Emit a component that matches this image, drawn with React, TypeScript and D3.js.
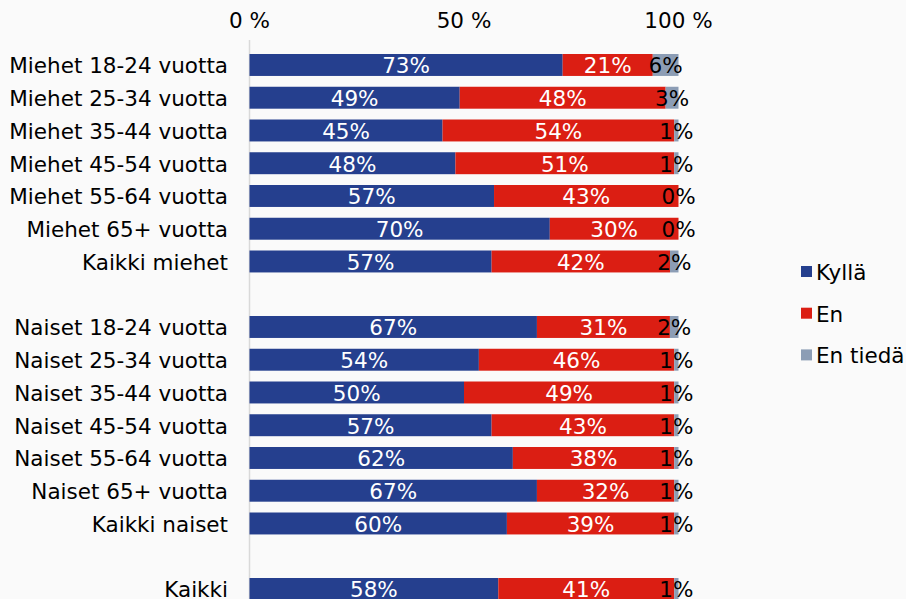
import * as d3 from 'd3';
import { useEffect } from 'react';

const categories = [
  'Miehet 18-24 vuotta',
  'Miehet 25-34 vuotta',
  'Miehet 35-44 vuotta',
  'Miehet 45-54 vuotta',
  'Miehet 55-64 vuotta',
  'Miehet 65+ vuotta',
  'Kaikki miehet',
  '',
  'Naiset 18-24 vuotta',
  'Naiset 25-34 vuotta',
  'Naiset 35-44 vuotta',
  'Naiset 45-54 vuotta',
  'Naiset 55-64 vuotta',
  'Naiset 65+ vuotta',
  'Kaikki naiset',
  ' ',
  'Kaikki',
];

// null = empty spacer row
const kylla = [73, 49, 45, 48, 57, 70, 57, null, 67, 54, 50, 57, 62, 67, 60, null, 58];
const en = [21, 48, 54, 51, 43, 30, 42, null, 31, 46, 49, 43, 38, 32, 39, null, 41];
const enTieda = [6, 3, 1, 1, 0, 0, 2, null, 2, 1, 1, 1, 1, 1, 1, null, 1];

const seriesNames = ['Kyllä', 'En', 'En tiedä'];
const colors = ['#253F8E', '#DB1E13', '#8C9DB5'];
const xTicks = [0, 50, 100];

const FONT = '"DejaVu Sans", Verdana, sans-serif';
const FS = 21.5;

export default function App() {
  useEffect(() => {
    document.body.style.margin = '0';
  }, []);

  const width = 906;
  const height = 599;
  const x = d3.scaleLinear().domain([0, 1]).range([249.5, 678.5]);
  const y = d3
    .scaleBand()
    .domain(categories)
    .range([48.6, 48.6 + 17 * 32.75])
    .paddingInner(0.33)
    .paddingOuter(0.165);

  const table = categories.map((c, i) => ({ c, k: kylla[i] ?? 0, e: en[i] ?? 0, t: enTieda[i] ?? 0 }));
  const keys = ['k', 'e', 't'];
  // each row is shown as a share of its own total (rounded labels may add to 101)
  const stacked = d3
    .stack<any>()
    .keys(keys)
    .offset(d3.stackOffsetExpand)(table);

  return (
    <svg width={width} height={height} style={{ display: 'block', background: '#FAFAFA' }} fontFamily={FONT}>
      <rect width={width} height={height} fill="#FAFAFA" />
      {/* top axis labels */}
      {xTicks.map((t) => (
        <text key={t} x={x(t / 100)} y={28} fontSize={FS} textAnchor="middle" fill="#000">
          {t} %
        </text>
      ))}
      <line x1={x(0)} x2={x(0)} y1={40} y2={height} stroke="#D9D9D9" strokeWidth={1.5} />
      {categories.map((c, i) =>
        kylla[i] === null ? null : (
          <text
            key={'c' + i}
            x={228}
            y={y(c)! + y.bandwidth() / 2 + 1}
            fontSize={FS}
            textAnchor="end"
            dominantBaseline="central"
            fill="#000"
          >
            {c}
          </text>
        ),
      )}
      {stacked.map((s, j) => (
        <g key={s.key} fill={colors[j]}>
          {s.map((d, i) =>
            kylla[i] === null ? null : (
              <rect
                key={i}
                x={x(d[0])}
                y={y(categories[i])}
                width={Math.max(0, x(d[1]) - x(d[0]))}
                height={y.bandwidth()}
              />
            ),
          )}
        </g>
      ))}
      {stacked.map((s, j) => (
        <g key={'l' + s.key}>
          {s.map((d, i) =>
            kylla[i] === null ? null : (
              <text
                key={i}
                x={x((d[0] + d[1]) / 2)}
                y={y(categories[i])! + y.bandwidth() / 2 + 1}
                fontSize={FS}
                textAnchor="middle"
                dominantBaseline="central"
                fill={j === 2 ? '#000' : '#FFF'}
              >
                {(d.data as any)[s.key]}%
              </text>
            ),
          )}
        </g>
      ))}
      {/* legend */}
      {seriesNames.map((s, i) => (
        <g key={s} transform={`translate(801, ${271.5 + i * 41.7})`}>
          <rect x={0} y={-5.5} width={11} height={11} fill={colors[i]} />
          <text x={15} y={1} fontSize={FS} dominantBaseline="central" fill="#000">
            {s}
          </text>
        </g>
      ))}
    </svg>
  );
}
